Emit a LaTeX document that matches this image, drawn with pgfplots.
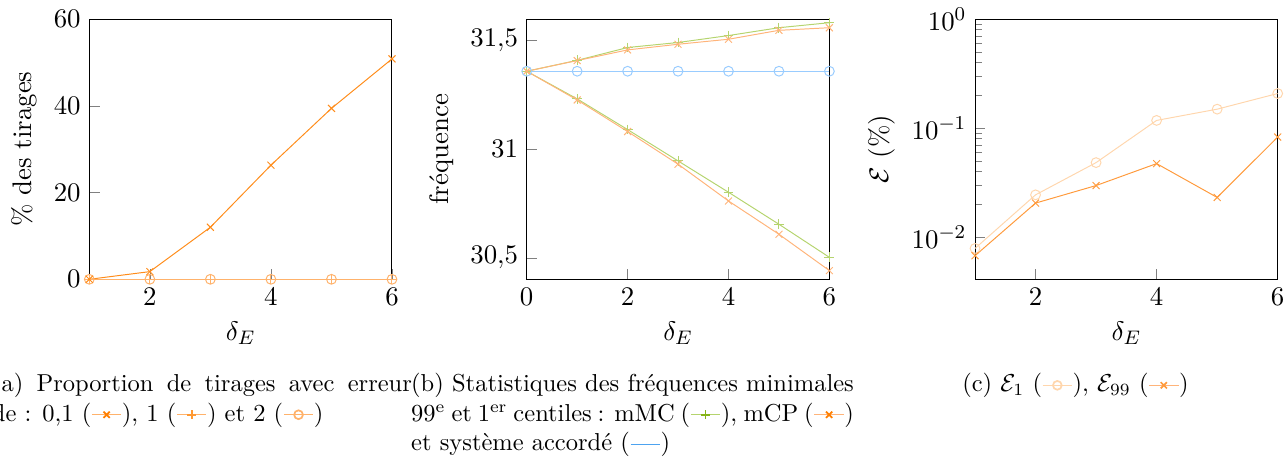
\documentclass[border=0pt]{standalone}
\usepackage{pgfplots}
\pgfplotsset{compat=1.18}
\newlength\px \setlength\px{0.408163pt}

\definecolor{orA}{HTML}{FF8C1A}
\definecolor{orPale}{HTML}{FFB26B}
\definecolor{orPlus}{HTML}{FF9933}
\definecolor{orBright}{HTML}{FF7F00}
\definecolor{grL}{HTML}{B5D46E}
\definecolor{grM}{HTML}{86B418}
\definecolor{orL}{HTML}{FFB47A}
\definecolor{blL}{HTML}{99CCFF}
\definecolor{blM}{HTML}{4DA3F0}
\definecolor{pe}{HTML}{FFD6AD}
\definecolor{orC}{HTML}{FF9A3C}

\newcommand\legimg[3]{\tikz[baseline=-2.6pt]{\draw[#1,line width=0.5pt] (0,0)--(12pt,0); \path plot[only marks,mark=#3,mark size=1.8pt,mark options={color=#2,line width=0.7pt}] coordinates {(6pt,0)};}}
\newcommand\leglin[1]{\tikz[baseline=-2.6pt]{\draw[#1,line width=0.5pt] (0,0)--(12pt,0);}}

\pgfplotsset{myax/.style={scale only axis, width=302.7\px, height=260.3\px, anchor=north west,
  tick pos=left,
  tick label style={font=\fontsize{10.95}{13.6}\selectfont},
  label style={font=\fontsize{10.95}{13.6}\selectfont},
  xlabel={$\delta_E$}}}

\begin{document}
\begin{tikzpicture}
% (a)
\begin{axis}[myax, at={(89.3\px,-19\px)}, xmin=1, xmax=6, ymin=0, ymax=60,
  xtick={2,4,6}, ytick={0,20,40,60}, ylabel={\% des tirages}]
\addplot[color=orPale, mark=o] coordinates {(1,0)(2,0)(3,0)(4,0)(5,0)(6,0)};
\addplot[color=orPale, mark=+] coordinates {(1,0)(2,0)(3,0)(4,0)(5,0)(6,0)};
\addplot[color=orA, mark=x] coordinates {(1,0)(2,1.77)(3,12.0)(4,26.3)(5,39.4)(6,50.8)};
\end{axis}
% (b)
\begin{axis}[myax, at={(526.7\px,-19\px)}, xmin=0, xmax=6, ymin=30.401, ymax=31.597,
  xtick={0,2,4,6}, ytick={30.5,31,31.5}, /pgf/number format/use comma, ylabel={fréquence}]
\addplot[color=grL, mark=+] coordinates {(0,31.357)(1,31.407)(2,31.466)(3,31.489)(4,31.521)(5,31.557)(6,31.580)};
\addplot[color=grL, mark=+] coordinates {(0,31.357)(1,31.230)(2,31.089)(3,30.945)(4,30.801)(5,30.654)(6,30.502)};
\addplot[color=orL, mark=x] coordinates {(0,31.357)(1,31.406)(2,31.455)(3,31.481)(4,31.504)(5,31.545)(6,31.557)};
\addplot[color=orL, mark=x] coordinates {(0,31.357)(1,31.225)(2,31.080)(3,30.930)(4,30.761)(5,30.608)(6,30.441)};
\addplot[color=blL, mark=o] coordinates {(0,31.357)(1,31.357)(2,31.357)(3,31.357)(4,31.357)(5,31.357)(6,31.357)};
\end{axis}
% (c)
\begin{axis}[myax, at={(975\px,-19\px)}, ymode=log, xmin=1, xmax=6, ymin=0.0041, ymax=1,
  xtick={2,4,6}, ytick={0.01,0.1,1}, ylabel={$\mathcal{E}$ (\%)}]
\addplot[color=pe, mark=o] coordinates {(1,0.00787)(2,0.0244)(3,0.0482)(4,0.1175)(5,0.149)(6,0.2074)};
\addplot[color=orC, mark=x] coordinates {(1,0.00675)(2,0.0205)(3,0.0297)(4,0.0472)(5,0.0231)(6,0.0827)};
\end{axis}
% captions
\node[anchor=base west, text width=420\px, align=justify, inner sep=0pt, font=\fontsize{10}{12}\selectfont]
  at (-8.5\px,-391.7\px) {(a) Proportion de tirages avec erreur\linebreak
  de~: 0,1 (\legimg{orPale}{orBright}{x}), 1 (\legimg{orPale}{orPlus}{+}) et 2 (\legimg{orPale}{orPale}{o})};
\node[anchor=base west, text width=442.7\px, align=justify, inner sep=0pt, font=\fontsize{10}{12}\selectfont]
  at (410.7\px,-391.7\px) {(b) Statistiques des fréquences minimales\linebreak
  99\textsuperscript{e} et 1\textsuperscript{er} centiles~: mMC (\legimg{grL}{grM}{+}), mCP (\legimg{orL}{orBright}{x})\linebreak
  et système accordé (\leglin{blM})};
\node[anchor=base, inner sep=0pt, font=\fontsize{10}{12}\selectfont]
  at (1075.5\px,-391.7\px) {(c) $\mathcal{E}_1$ (\legimg{pe}{pe}{o}), $\mathcal{E}_{99}$ (\legimg{orL}{orC}{x})};
\pgfresetboundingbox
\useasboundingbox (0,0) rectangle (1286\px,-458\px);
\end{tikzpicture}
\end{document}
